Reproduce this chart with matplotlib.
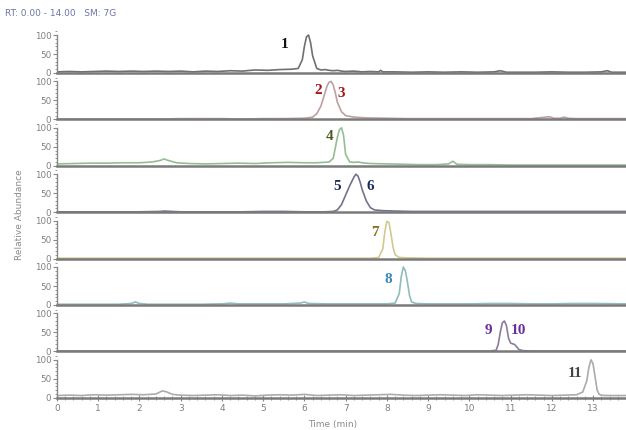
import matplotlib
matplotlib.use("Agg")
import matplotlib.pyplot as plt
from matplotlib.ticker import MultipleLocator

# ---------------- data ----------------
t1 = [0, 0.3, 0.6, 0.9, 1.2, 1.5, 1.8, 2.1, 2.4, 2.7, 3.0, 3.3, 3.6, 3.9, 4.2, 4.5, 4.8, 5.1, 5.4, 5.7,
      5.85, 5.95, 6.0, 6.05, 6.1, 6.15, 6.2, 6.3, 6.4, 6.5, 6.6, 6.7, 6.8, 6.9, 7.0, 7.2, 7.4, 7.6, 7.8,
      7.85, 7.9, 8.2, 8.6, 9.0, 9.4, 9.8, 10.2, 10.6, 10.75, 10.9, 11.2, 11.6, 12.0, 12.4, 12.8, 13.2,
      13.35, 13.45, 13.8]
y1 = [3, 4, 3, 4, 5, 4, 5, 4, 5, 4, 5, 3, 5, 4, 6, 5, 8, 7, 9, 10,
      12, 35, 70, 95, 100, 80, 45, 12, 8, 9, 7, 6, 7, 5, 4, 5, 3, 4, 3,
      7, 3, 3, 2, 3, 2, 3, 2, 3, 6, 2, 2, 2, 3, 2, 2, 3,
      6, 2, 2]

t2 = [0, 0.5, 1, 1.5, 2, 2.5, 3, 3.5, 4, 4.5, 5, 5.5, 6.0, 6.2, 6.3, 6.4, 6.5, 6.55, 6.6, 6.65, 6.7,
      6.75, 6.8, 6.9, 7.0, 7.2, 7.5, 8, 8.5, 9, 9.5, 10, 10.5, 11, 11.5, 11.85, 11.95, 12.05, 12.2,
      12.3, 12.4, 12.6, 13, 13.8]
y2 = [1, 1, 1, 1, 1, 1, 2, 2, 2, 1, 2, 2, 3, 6, 15, 35, 70, 88, 98, 100, 90,
      70, 45, 20, 10, 6, 4, 3, 2, 2, 2, 2, 2, 2, 2, 6, 7, 3, 3,
      6, 3, 2, 2, 2]

t3 = [0, 0.4, 0.8, 1.2, 1.6, 2.0, 2.3, 2.5, 2.6, 2.7, 2.9, 3.2, 3.6, 4.0, 4.4, 4.8, 5.2, 5.6, 6.0, 6.3,
      6.6, 6.7, 6.8, 6.85, 6.9, 6.95, 7.0, 7.1, 7.2, 7.3, 7.4, 7.6, 8, 8.4, 8.8, 9.2, 9.5, 9.6, 9.7,
      10, 10.5, 11, 11.5, 12, 12.5, 13, 13.8]
y3 = [5, 6, 7, 7, 8, 8, 10, 14, 18, 14, 8, 6, 5, 6, 7, 6, 8, 9, 8, 8,
      10, 20, 75, 95, 100, 80, 30, 10, 9, 10, 8, 6, 5, 4, 3, 3, 5, 12, 4,
      3, 3, 2, 2, 2, 2, 2, 2]

t4 = [0, 0.5, 1, 1.5, 2, 2.5, 2.6, 2.8, 3, 3.5, 4, 4.5, 5, 5.5, 6, 6.5, 6.7, 6.8, 6.9, 7.0, 7.1, 7.2,
      7.25, 7.3, 7.35, 7.4, 7.5, 7.6, 7.7, 7.9, 8.2, 8.6, 9, 10, 11, 12, 13, 13.8]
y4 = [1, 1, 1, 1, 1, 2, 3, 2, 1, 1, 1, 1, 2, 2, 1, 1, 2, 6, 20, 45, 70, 92,
      100, 95, 80, 60, 30, 12, 6, 4, 3, 2, 2, 2, 2, 2, 2, 2]

t5 = [0, 1, 2, 3, 4, 5, 6, 7, 7.6, 7.8, 7.9, 7.95, 8.0, 8.05, 8.1, 8.15, 8.2, 8.3, 8.5, 9, 10, 11, 12,
      13, 13.8]
y5 = [1, 1, 1, 1, 1, 1, 1, 1, 1, 3, 25, 70, 98, 95, 65, 30, 10, 3, 2, 1, 1, 1, 1,
      1, 1]

t6 = [0, 0.5, 1, 1.5, 1.8, 1.9, 2.0, 2.2, 2.6, 3, 3.5, 4, 4.2, 4.4, 5, 5.5, 5.9, 6.0, 6.1, 6.5, 7, 7.5,
      8.0, 8.2, 8.3, 8.35, 8.4, 8.45, 8.5, 8.55, 8.6, 8.7, 9, 9.5, 10, 10.5, 11, 11.5, 12, 12.5, 13, 13.8]
y6 = [2, 2, 2, 2, 4, 8, 4, 2, 2, 2, 2, 3, 5, 3, 3, 3, 5, 8, 4, 3, 3, 3,
      3, 5, 30, 75, 100, 90, 60, 25, 8, 4, 3, 3, 3, 4, 4, 3, 3, 4, 4, 3]

t7 = [0, 1, 2, 3, 4, 5, 6, 7, 8, 9, 10, 10.5, 10.65, 10.7, 10.75, 10.8, 10.85, 10.9, 10.95, 11.0,
      11.05, 11.1, 11.15, 11.2, 11.3, 11.5, 12, 13, 13.8]
y7 = [1, 1, 1, 1, 1, 1, 1, 1, 1, 1, 1, 1, 3, 18, 50, 75, 80, 68, 35, 22,
      20, 18, 12, 5, 2, 1, 1, 1, 1]

t8 = [0, 0.3, 0.6, 0.9, 1.2, 1.5, 1.8, 2.1, 2.4, 2.55, 2.65, 2.8, 3.0, 3.3, 3.6, 3.9, 4.2, 4.5, 4.8,
      5.1, 5.4, 5.7, 6.0, 6.3, 6.6, 6.9, 7.2, 7.5, 7.8, 8.1, 8.4, 8.7, 9.0, 9.3, 9.6, 9.9, 10.2, 10.5,
      10.8, 11.1, 11.4, 11.7, 12.0, 12.3, 12.6, 12.75, 12.85, 12.9, 12.95, 13.0, 13.05, 13.1, 13.15,
      13.2, 13.3, 13.5, 13.8]
y8 = [6, 7, 6, 8, 7, 8, 9, 8, 10, 18, 16, 9, 7, 6, 7, 8, 6, 7, 5,
      7, 8, 7, 9, 6, 7, 8, 6, 7, 8, 9, 7, 6, 7, 8, 7, 6, 8, 7,
      6, 7, 8, 7, 6, 7, 8, 15, 45, 80, 100, 90, 55, 20, 9,
      7, 6, 6, 6]

times = [t1, t2, t3, t4, t5, t6, t7, t8]
intens = [y1, y2, y3, y4, y5, y6, y7, y8]

# peak labels per panel: (text, time, abundance)
peak_labels = [
    [("1", 5.53, 74)],
    [("2", 6.33, 76), ("3", 6.89, 68)],
    [("4", 6.60, 76)],
    [("5", 6.80, 68), ("6", 7.60, 68)],
    [("7", 7.70, 68)],
    [("8", 8.03, 66)],
    [("9", 10.46, 55), ("10", 11.2, 55)],
    [("11", 12.57, 63)],
]

y_ticks = [0, 50, 100]
x_ticks = list(range(0, 14))

# ---------------- styling ----------------
line_colors = ["#707070", "#bfa0a0", "#94bd94", "#72728e", "#d2c98e", "#8fbcbc", "#8c7c9c", "#ababab"]
label_colors = ["#111111", "#a01818", "#4a5a22", "#1c2a58", "#86701e", "#3a86b8", "#6a2f9a", "#444444"]

W, H = 626, 430
fig = plt.figure(figsize=(W / 100, H / 100), dpi=100)

left_px = 57
px_per_unit = 0.38
ylo, yhi = -4, 118
for i in range(8):
    base = 73 + 46.4 * i
    bottom_px = base + (0 - ylo) * px_per_unit
    top_px = base - yhi * px_per_unit
    ax = fig.add_axes([left_px / W, 1 - bottom_px / H, (W - left_px) / W, (bottom_px - top_px) / H])
    ax.plot(times[i], intens[i], color=line_colors[i], lw=1.2)
    ax.set_xlim(0, 13.8)
    ax.set_ylim(ylo, yhi)
    ax.patch.set_alpha(0)
    for s in ("top", "right"):
        ax.spines[s].set_visible(False)
    ax.spines["bottom"].set_position(("data", 0))
    ax.spines["bottom"].set_color("#7a7a7a")
    ax.spines["bottom"].set_linewidth(1.8)
    ax.spines["left"].set_bounds(0, 100)
    ax.spines["left"].set_color("#888888")
    ax.spines["left"].set_linewidth(1.0)
    ax.set_yticks(y_ticks)
    ax.set_yticklabels([str(v) for v in y_ticks])
    ax.yaxis.set_minor_locator(MultipleLocator(10))
    ax.tick_params(axis="y", which="major", length=3, width=0.8, color="#888888",
                   labelsize=6.3, labelcolor="#808080", pad=1)
    ax.tick_params(axis="y", which="minor", length=1.5, width=0.6, color="#888888")
    if i < 7:
        ax.tick_params(axis="x", which="both", bottom=False, labelbottom=False)
    else:
        ax.set_xticks(x_ticks)
        ax.set_xticklabels([str(v) for v in x_ticks])
        ax.xaxis.set_minor_locator(MultipleLocator(0.2))
        ax.tick_params(axis="x", which="major", direction="inout", length=5, width=0.8,
                       color="#888888", labelsize=6.5, labelcolor="#808080", pad=2)
        ax.tick_params(axis="x", which="minor", direction="inout", length=3, width=0.6,
                       color="#888888")
    for txt, tx, ty in peak_labels[i]:
        ax.text(tx, ty, txt, color=label_colors[i], fontsize=11, fontweight="bold",
                family="Liberation Serif", ha="center", va="center")

fig.text(5 / W, 1 - 13 / H, "RT: 0.00 - 14.00   SM: 7G", fontsize=6.5, color="#6a76a6",
         ha="left", va="center")
fig.text(20 / W, 1 - 215 / H, "Relative Abundance", rotation=90, fontsize=6.5, color="#8a8a8a",
         ha="center", va="center")
fig.text(333 / W, 1 - 425 / H, "Time (min)", fontsize=6.5, color="#8a8a8a", ha="center", va="center")

fig.savefig("out.png", dpi=100)
